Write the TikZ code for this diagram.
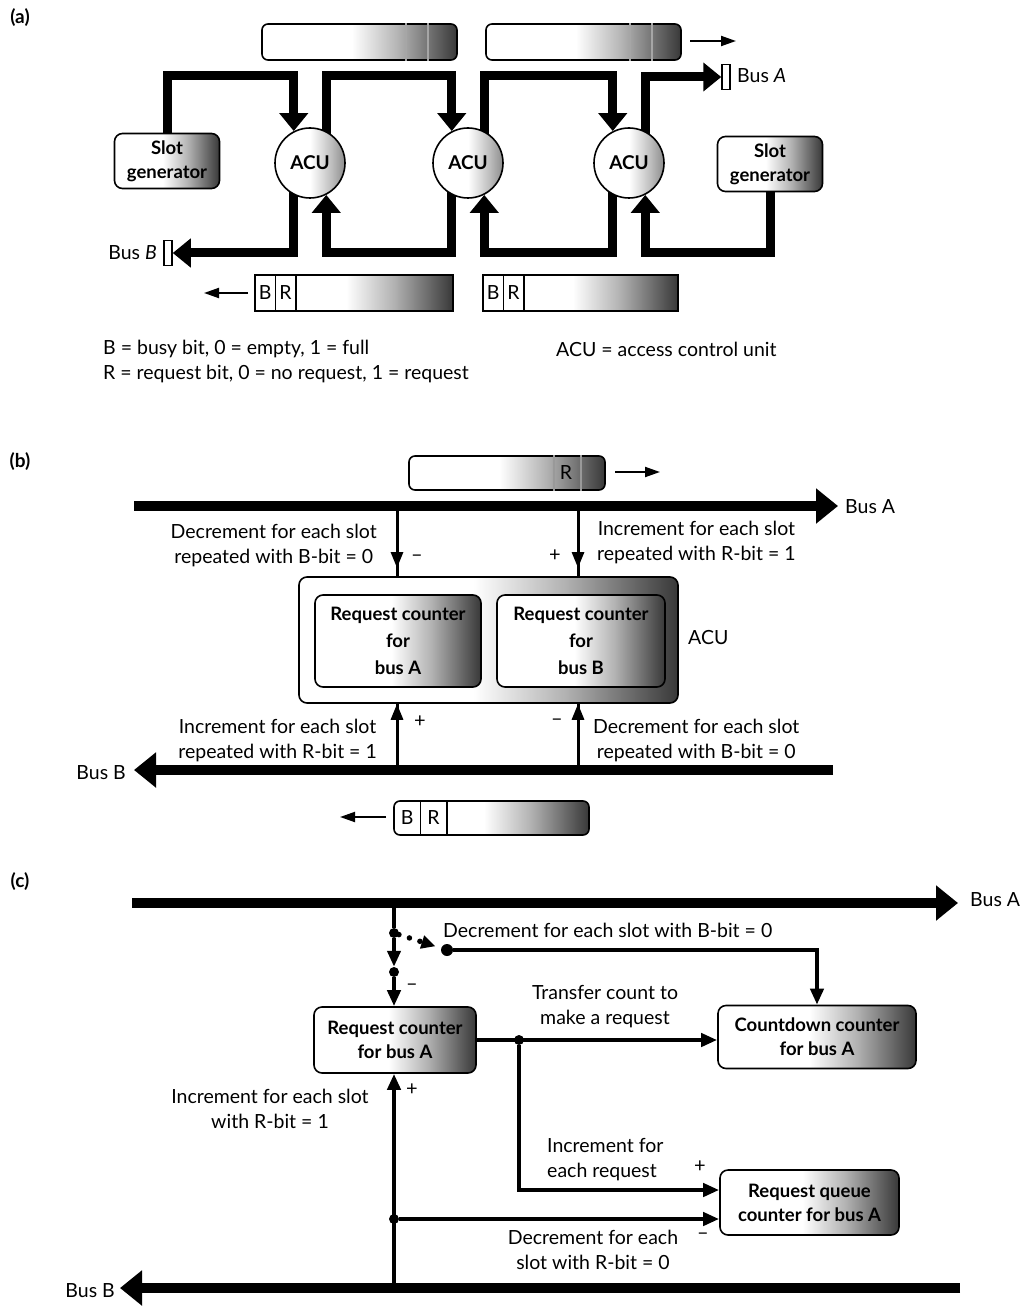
\documentclass[tikz,border=0pt]{standalone}
\usepackage{fontspec}
\setmainfont{Lato}
\usetikzlibrary{arrows.meta,backgrounds}
\pgfdeclarehorizontalshading{slotshade}{100bp}{color(0bp)=(white); color(25bp)=(white); color(48bp)=(white); color(60bp)=(black!30); color(70bp)=(black!62); color(75bp)=(black!78); color(100bp)=(black!78)}
\pgfdeclarehorizontalshading{acushade}{100bp}{color(0bp)=(white); color(25bp)=(white); color(50bp)=(white); color(65bp)=(black!25); color(75bp)=(black!45); color(100bp)=(black!45)}
\begin{document}
\begin{tikzpicture}[x=1pt,y=-1pt,
 every node/.style={font=\fontsize{19.5}{25}\selectfont, inner sep=0pt},
 bigline/.style={line width=9pt, line join=miter},
 bigarrow/.style={bigline, -{Triangle[width=28pt,length=18pt]}},
 busarrow/.style={line width=10pt, -{Triangle[width=34pt,length=22pt]}},
 thinline/.style={line width=3pt},
 thinarrow/.style={line width=3pt, -{Triangle[width=12pt,length=16pt]}},
 cline/.style={line width=4pt},
 carrow/.style={line width=4pt, -{Triangle[width=13pt,length=16pt]}},
 motion/.style={line width=2pt, -{Triangle[width=10pt,length=15pt]}},
 shadebox/.style={draw, line width=1.6pt, rounded corners=8pt, shading=slotshade, align=center, font=\fontsize{18.5}{24}\selectfont\bfseries},
 slotbox/.style={draw, line width=1.6pt, rounded corners=6pt, shading=slotshade},
 sqslot/.style={draw, line width=1.6pt, shading=slotshade},
 acu/.style={circle, draw, line width=1.6pt, minimum size=70pt, shading=acushade, font=\fontsize{19}{24}\selectfont\bfseries},
 busbox/.style={draw, line width=1.5pt, fill=white, minimum width=8pt, minimum height=25pt},
 divider/.style={line width=1.4pt},
 celltext/.style={minimum height=34pt},
 dot/.style={circle, fill, minimum size=10pt},
 tag/.style={font=\fontsize{19}{24}\selectfont\bfseries},
 lbl/.style={align=center},
 sign/.style={font=\fontsize{20}{24}\selectfont},
 dotarrow/.style={line width=5.5pt, line cap=round, dash pattern=on 0pt off 11pt, shorten >=6pt, -{Triangle[width=13pt,length=14pt]}},
]
\useasboundingbox (0,0) rectangle (1027,1313);

% ================= (a) =================
\node[tag] (la) at (20,18) {(a)};
\node[slotbox, minimum width=195pt, minimum height=36pt] (ts1) at (359.5,42) {};
\node[slotbox, minimum width=195pt, minimum height=36pt] (ts2) at (583.5,42) {};
\foreach \s in {ts1,ts2}{
  \draw[divider, black!35] ([xshift=-52pt]\s.north east) -- ([xshift=-52pt]\s.south east);
  \draw[divider, black!35] ([xshift=-30pt]\s.north east) -- ([xshift=-30pt]\s.south east);
}
\coordinate (ma1) at (690,41);
\coordinate (ma2) at (736,41);
\draw[motion] (ma1) -- (ma2);

\node[shadebox, minimum width=105pt, minimum height=55pt] (sgL) at (167,161) {Slot\\generator};
\node[shadebox, minimum width=105pt, minimum height=55pt] (sgR) at (770,164) {Slot\\generator};
\node[acu] (acu1) at (310,163) {ACU};
\node[acu] (acu2) at (468,163) {ACU};
\node[acu] (acu3) at (629,163) {ACU};
\node[busbox] (busAa) at (726,77) {};
\node[anchor=west] (busAat) at (737,76) {Bus \textit{A}};
\node[busbox] (busBa) at (168,253) {};
\node[anchor=east] (busBat) at (157,253) {Bus \textit{B}};

\begin{scope}[on background layer]
\draw[bigarrow] (sgL.center) -- (sgL.center |- 0,76) -- (acu1.117 |- 0,76) -- (acu1.117);
\draw[bigarrow] (acu1.63 |- acu1.center) -- (acu1.63 |- 0,76) -- (acu2.117 |- 0,76) -- (acu2.117);
\draw[bigarrow] (acu2.63 |- acu2.center) -- (acu2.63 |- 0,76) -- (acu3.117 |- 0,76) -- (acu3.117);
\draw[bigarrow] (acu3.63 |- acu3.center) -- (acu3.63 |- 0,77) -- (busAa.west);
\draw[bigarrow] (acu1.243 |- acu1.center) -- (acu1.243 |- 0,253) -- (busBa.east);
\draw[bigarrow] (acu2.243 |- acu2.center) -- (acu2.243 |- 0,253) -- (acu1.297 |- 0,253) -- (acu1.297);
\draw[bigarrow] (acu3.243 |- acu3.center) -- (acu3.243 |- 0,253) -- (acu2.297 |- 0,253) -- (acu2.297);
\draw[bigarrow] (sgR.center) -- (sgR.center |- 0,253) -- (acu3.297 |- 0,253) -- (acu3.297);
\end{scope}

\node[sqslot, minimum width=198pt, minimum height=36pt] (bs1) at (354,293) {};
\node[celltext, minimum width=20pt, anchor=west] (bs1b) at ([xshift=0.8pt]bs1.west) {B};
\node[celltext, minimum width=20pt, anchor=west] (bs1r) at (bs1b.east) {R};
\draw[divider] (bs1b.east |- bs1.north) -- (bs1b.east |- bs1.south);
\draw[divider] (bs1r.east |- bs1.north) -- (bs1r.east |- bs1.south);
\node[sqslot, minimum width=195pt, minimum height=36pt] (bs2) at (580.5,293) {};
\node[celltext, minimum width=20pt, anchor=west] (bs2b) at ([xshift=0.8pt]bs2.west) {B};
\node[celltext, minimum width=20pt, anchor=west] (bs2r) at (bs2b.east) {R};
\draw[divider] (bs2b.east |- bs2.north) -- (bs2b.east |- bs2.south);
\draw[divider] (bs2r.east |- bs2.north) -- (bs2r.east |- bs2.south);
\coordinate (mb1) at (248,293);
\coordinate (mb2) at (204,293);
\draw[motion] (mb1) -- (mb2);

\node[anchor=west] (leg1) at (103,349) {B = busy bit, 0 = empty, 1 = full};
\node[anchor=west] (leg2) at (103,374) {R = request bit, 0 = no request, 1 = request};
\node[anchor=west] (leg3) at (556,349) {ACU = access control unit};

% ================= (b) =================
\node[tag] (lb) at (20,462) {(b)};
\node[slotbox, minimum width=196pt, minimum height=34pt] (tsb) at (507,473) {};
\draw[divider, black!40] ([xshift=-52pt]tsb.north east) -- ([xshift=-52pt]tsb.south east);
\draw[divider, black!40] ([xshift=-25pt]tsb.north east) -- ([xshift=-25pt]tsb.south east);
\node (tsbr) at (566,473) {R};
\coordinate (mc1) at (615,472);
\coordinate (mc2) at (660,472);
\draw[motion] (mc1) -- (mc2);

\coordinate (bA1) at (134,506);
\coordinate (bA2) at (838,506);
\coordinate (bB1) at (833,770);
\coordinate (bB2) at (134,770);

\node[shadebox, minimum width=379pt, minimum height=126pt] (acuB) at (488.5,640) {};
\node[shadebox, minimum width=166pt, minimum height=92pt, font=\fontsize{18.5}{27}\selectfont\bfseries] (rcA) at (398,641) {Request counter\\for\\bus A};
\node[shadebox, minimum width=168pt, minimum height=92pt, font=\fontsize{18.5}{27}\selectfont\bfseries] (rcB) at (581,641) {Request counter\\for\\bus B};
\node[anchor=west] (acuBl) at (688,638) {ACU};

\coordinate (v1t) at (397,506);
\coordinate (v1b) at (397,770);
\coordinate (v1d) at (397,568);
\coordinate (v2t) at (578,506);
\coordinate (v2b) at (578,770);
\coordinate (v2d) at (578,568);
\begin{scope}[on background layer]
\draw[thinline] (v1t) -- (v1b);
\draw[thinline] (v2t) -- (v2b);
\draw[thinarrow] (v1t) -- (v1d);
\draw[thinarrow] (v2t) -- (v2d);
\draw[thinarrow] (v1b) -- (v1b |- acuB.south);
\draw[thinarrow] (v2b) -- (v2b |- acuB.south);
\end{scope}
\draw[busarrow] (bA1) -- (bA2);
\draw[busarrow] (bB1) -- (bB2);
\node[anchor=west] (bAl) at (845,507) {Bus A};
\node[anchor=east] (bBl) at (126,773) {Bus B};

\node[lbl, anchor=east] (t1) at (377,545) {Decrement for each slot\\repeated with B-bit = 0};
\node[lbl, anchor=west] (t2) at (597,542) {Increment for each slot\\repeated with R-bit = 1};
\node[sign] (m1) at (417,558) {\textendash};
\node[sign] (p1) at (555,556) {+};
\node[sign] (p2) at (420,722) {+};
\node[sign] (m2) at (557,722) {\textendash};
\node[lbl, anchor=east] (t3) at (377,740) {Increment for each slot\\repeated with R-bit = 1};
\node[lbl, anchor=west] (t4) at (593,740) {Decrement for each slot\\repeated with B-bit = 0};

\node[slotbox, minimum width=195pt, minimum height=34pt] (bsb) at (491.5,818) {};
\node[celltext, minimum width=26pt, anchor=west] (bsbb) at ([xshift=0.8pt]bsb.west) {B};
\node[celltext, minimum width=26pt, anchor=west] (bsbr) at (bsbb.east) {R};
\draw[divider] (bsbb.east |- bsb.north) -- (bsbb.east |- bsb.south);
\draw[divider] (bsbr.east |- bsb.north) -- (bsbr.east |- bsb.south);
\coordinate (md1) at (386,817);
\coordinate (md2) at (340,817);
\draw[motion] (md1) -- (md2);

% ================= (c) =================
\node[tag] (lc) at (20,882) {(c)};
\coordinate (cA1) at (132,903);
\coordinate (cA2) at (958,903);
\coordinate (cB1) at (960,1288);
\coordinate (cB2) at (120,1288);
\coordinate (cvt) at (394,903);
\coordinate (cvb) at (394,1288);

\node[shadebox, minimum width=162pt, minimum height=66pt] (rc) at (395,1040) {Request counter\\for bus A};
\node[shadebox, minimum width=198pt, minimum height=63pt] (cd) at (817,1037) {Countdown counter\\for bus A};
\node[shadebox, minimum width=179pt, minimum height=65pt] (rq) at (809.5,1202.5) {Request queue\\counter for bus A};

\node[dot] (d1) at (394,933) {};
\node[dot] (d2) at (394,972) {};
\node[dot] (d3) at (394,1219) {};
\node[dot, minimum size=12pt] (d4) at (447,950) {};
\node[dot] (d5) at (519,1040) {};

\begin{scope}[on background layer]
\draw[cline] (cvt) -- (d1);
\draw[carrow] (d1) -- (d2.north);
\draw[carrow] (d2) -- (d2 |- rc.north);
\draw[carrow] (cvb) -- (cvb |- rc.south);
\draw[dotarrow] (d1) -- (d4);
\draw[carrow] (d4) -- (d4 -| cd.north) -- (cd.north);
\draw[carrow] (rc.east) -- (rc.east -| cd.west);
\draw[carrow] (d5) |- ([yshift=12.5pt]rq.west);
\draw[carrow] (d3) -- (d3 -| rq.west);
\end{scope}
\draw[busarrow] (cA1) -- (cA2);
\draw[busarrow] (cB1) -- (cB2);
\node[anchor=west] (cAl) at (970,900) {Bus A};
\node[anchor=east] (cBl) at (115,1291) {Bus B};

\node[anchor=west] (u1) at (443,930) {Decrement for each slot with B-bit = 0};
\node[sign] (m3) at (412,987) {\textendash};
\node[lbl] (u2) at (605,1007) {Transfer count to\\make a request};
\node[align=left, anchor=west] (u3) at (547,1160) {Increment for\\each request};
\node[sign] (p3) at (700,1167) {+};
\node[sign] (m4) at (703,1236) {\textendash};
\node[lbl] (u4) at (593,1250) {Decrement for each\\slot with R-bit = 0};
\node[sign] (p4) at (412,1090) {+};
\node[lbl] (u5) at (270,1109) {Increment for each slot\\with R-bit = 1};
\end{tikzpicture}
\end{document}
